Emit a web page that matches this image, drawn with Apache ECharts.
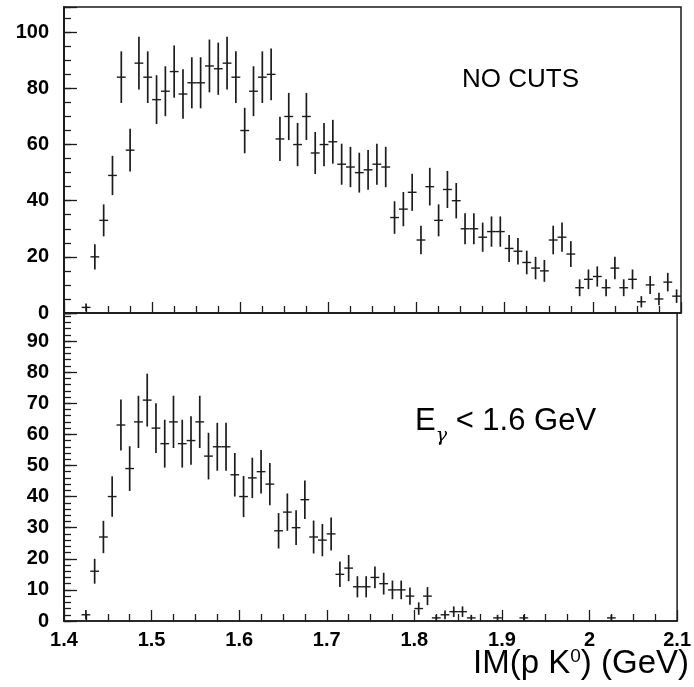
<!DOCTYPE html>
<html><head><meta charset="utf-8">
<script src="https://cdn.jsdelivr.net/npm/echarts@6/dist/echarts.min.js"></script>
<style>html,body{margin:0;padding:0;background:#fff}#c{width:694px;height:687px}</style>
</head><body><div id="c"></div>
<script>
// ---- data: top panel (NO CUTS) ----
const topX = [1.425,1.435,1.445,1.455,1.465,1.475,1.485,1.495,1.505,1.515,1.525,1.535,1.545,1.555,1.565,1.575,1.585,1.595,1.605,1.615,1.625,1.635,1.645,1.655,1.665,1.675,1.685,1.695,1.705,1.715,1.725,1.735,1.745,1.755,1.765,1.775,1.785,1.795,1.805,1.815,1.825,1.835,1.845,1.855,1.865,1.875,1.885,1.895,1.905,1.915,1.925,1.935,1.945,1.955,1.965,1.975,1.985,1.995,2.005,2.015,2.025,2.035,2.045,2.055,2.065,2.075,2.085,2.095];
const topY = [2,20,33,49,84,58,89,84,76,79,86,78,82,82,88,87,89,84,65,79,84,85,62,70,60,70,57,60,61,53,52,50,51,53,52,34,37,43,26,45,33,44,40,30,30,27,29,29,23,22,18,16,15,26,27,21,9,12,13,9,16,9,12,4,10,5,11,6];
const topErr = [1.4,4.5,5.7,7,9.2,7.6,9.4,9.2,8.7,8.9,9.3,8.8,9.1,9.1,9.4,9.3,9.4,9.2,8.1,8.9,9.2,9.2,7.9,8.4,7.7,8.4,7.5,7.7,7.8,7.3,7.2,7.1,7.1,7.3,7.2,5.8,6.1,6.6,5.1,6.7,5.7,6.6,6.3,5.5,5.5,5.2,5.4,5.4,4.8,4.7,4.2,4,3.9,5.1,5.2,4.6,3,3.5,3.6,3,4,3,3.5,2,3.2,2.2,3.3,2.4];
// ---- data: bottom panel (E_gamma < 1.6 GeV) ----
const botX = [1.425,1.435,1.445,1.455,1.465,1.475,1.485,1.495,1.505,1.515,1.525,1.535,1.545,1.555,1.565,1.575,1.585,1.595,1.605,1.615,1.625,1.635,1.645,1.655,1.665,1.675,1.685,1.695,1.705,1.715,1.725,1.735,1.745,1.755,1.765,1.775,1.785,1.795,1.805,1.815,1.825,1.835,1.845,1.855,1.865,1.895,1.925,2.025];
const botY = [2,16,27,40,63,49,64,71,62,57,64,57,58,64,53,56,56,47,40,46,48,44,29,35,30,39,27,26,28,15,17,11,11,14,12,10,10,8,4,8,1,2,3,3,1,1,1,1];
const botErr = [1.5,4,5.2,6.5,8.2,7.2,8.4,8.5,8,7.7,8.4,7.7,7.8,8.4,7.5,7.7,7.7,7,6.6,6.5,7,6.8,5.7,6,5.6,6.2,5.3,5.2,5.3,4.1,4.2,3.4,3.4,3.5,3.5,3,3,2.8,2,2.9,1,1.4,1.7,1.7,1,1,1,1];
// ---- axes ----
const xMin = 1.4, xMax = 2.1, xMajor = 0.1, xMinor = 0.025;
const topYMax = 109, topYMajor = 20, topYMinor = 5;
const botYMax = 99, botYMajor = 10, botYMinor = 2;
const BIN = 0.01;

const chart = echarts.init(document.getElementById('c'), null, {renderer:'canvas'});
const INK = '#1c1c1c';
const FONT = 'Liberation Sans, Arial, sans-serif';

function renderErr(params, api) {
  const x = api.value(0), y = api.value(1), e = api.value(2);
  const c = api.coord([x, y]);
  const lo = api.coord([x, Math.max(0, y - e)]);
  const hi = api.coord([x, y + e]);
  const l = api.coord([x - BIN/2, y]);
  const r = api.coord([x + BIN/2, y]);
  return {type:'group', children:[
    {type:'line', shape:{x1:c[0], y1:hi[1], x2:c[0], y2:lo[1]}, style:{stroke:INK, lineWidth:1.7}},
    {type:'line', shape:{x1:l[0], y1:c[1], x2:r[0], y2:c[1]}, style:{stroke:INK, lineWidth:1.4}}
  ]};
}
const zip = (xs, ys, es) => xs.map((x,i) => [x, ys[i], es[i]]);

function xAxis(grid, labels) {
  return {
    type:'value', gridIndex:grid, min:xMin, max:xMax, interval:xMajor, position:'bottom',
    axisLine:{show:true, lineStyle:{color:INK, width:1.5}},
    axisTick:{show:true, inside:true, length:11, lineStyle:{color:INK, width:1.3}},
    minorTick:{show:true, splitNumber:Math.round(xMajor/xMinor), length:7, lineStyle:{color:INK, width:1.3}},
    splitLine:{show:false},
    axisLabel:{show:labels, margin:9, color:'#000', fontFamily:FONT, fontSize:20, fontWeight:'bold',
      formatter: v => String(Math.round(v*10)/10), showMinLabel:true, showMaxLabel:true}
  };
}
function yMajor(grid, max, step) {
  return {
    type:'value', gridIndex:grid, min:0, max:max, interval:step, position:'left',
    axisLine:{show:true, lineStyle:{color:INK, width:2}},
    axisTick:{show:true, inside:true, length:13, lineStyle:{color:INK, width:1.3}},
    splitLine:{show:false},
    axisLabel:{margin:15, color:'#000', fontFamily:FONT, fontSize:20, fontWeight:'bold',
      formatter: v => (v % step === 0 ? String(v) : '')}
  };
}
function yMinorAx(grid, max, step) {
  return {
    type:'value', gridIndex:grid, min:0, max:max, interval:step, position:'left',
    axisLine:{show:false}, axisLabel:{show:false}, splitLine:{show:false},
    axisTick:{show:true, inside:true, length:7, lineStyle:{color:INK, width:1.3}}
  };
}

chart.setOption({
  animation:false,
  backgroundColor:'#fff',
  grid:[
    {left:64, right:13, top:7, height:306, show:true, borderColor:INK, borderWidth:1.5, backgroundColor:'transparent'},
    {left:64, right:13, top:313, height:308, show:true, borderColor:INK, borderWidth:1.5, backgroundColor:'transparent'}
  ],
  xAxis:[ xAxis(0,false), xAxis(1,true) ],
  yAxis:[ yMajor(0, topYMax, topYMajor), yMinorAx(0, topYMax, topYMinor),
          yMajor(1, botYMax, botYMajor), yMinorAx(1, botYMax, botYMinor) ],
  series:[
    {type:'custom', xAxisIndex:0, yAxisIndex:0, renderItem:renderErr, data:zip(topX, topY, topErr), clip:true},
    {type:'custom', xAxisIndex:1, yAxisIndex:2, renderItem:renderErr, data:zip(botX, botY, botErr), clip:true}
  ],
  graphic:[
    {type:'text', left:462, top:67, style:{text:'NO CUTS', fill:'#000', font:'26px ' + FONT}},
    {type:'text', left:415, top:406, style:{
      text:'{e|E}{g|γ}{t| < 1.6 GeV}', fill:'#000',
      rich:{
        e:{fontSize:31, fontFamily:FONT, fill:'#000'},
        g:{fontSize:19, fontFamily:'DejaVu Serif', fontStyle:'italic', fill:'#000', verticalAlign:'bottom', padding:[0,0,-9,0]},
        t:{fontSize:31, fontFamily:FONT, fill:'#000'}
      }}},
    {type:'text', right:5, top:647, style:{
      text:'{a|IM(p K}{s|0}{a|) (GeV)}', fill:'#000',
      rich:{
        a:{fontSize:33, fontFamily:FONT, fill:'#000'},
        s:{fontSize:19, fontFamily:FONT, fill:'#000', verticalAlign:'top', padding:[0,0,15,0]}
      }}}
  ]
});
</script></body></html>
